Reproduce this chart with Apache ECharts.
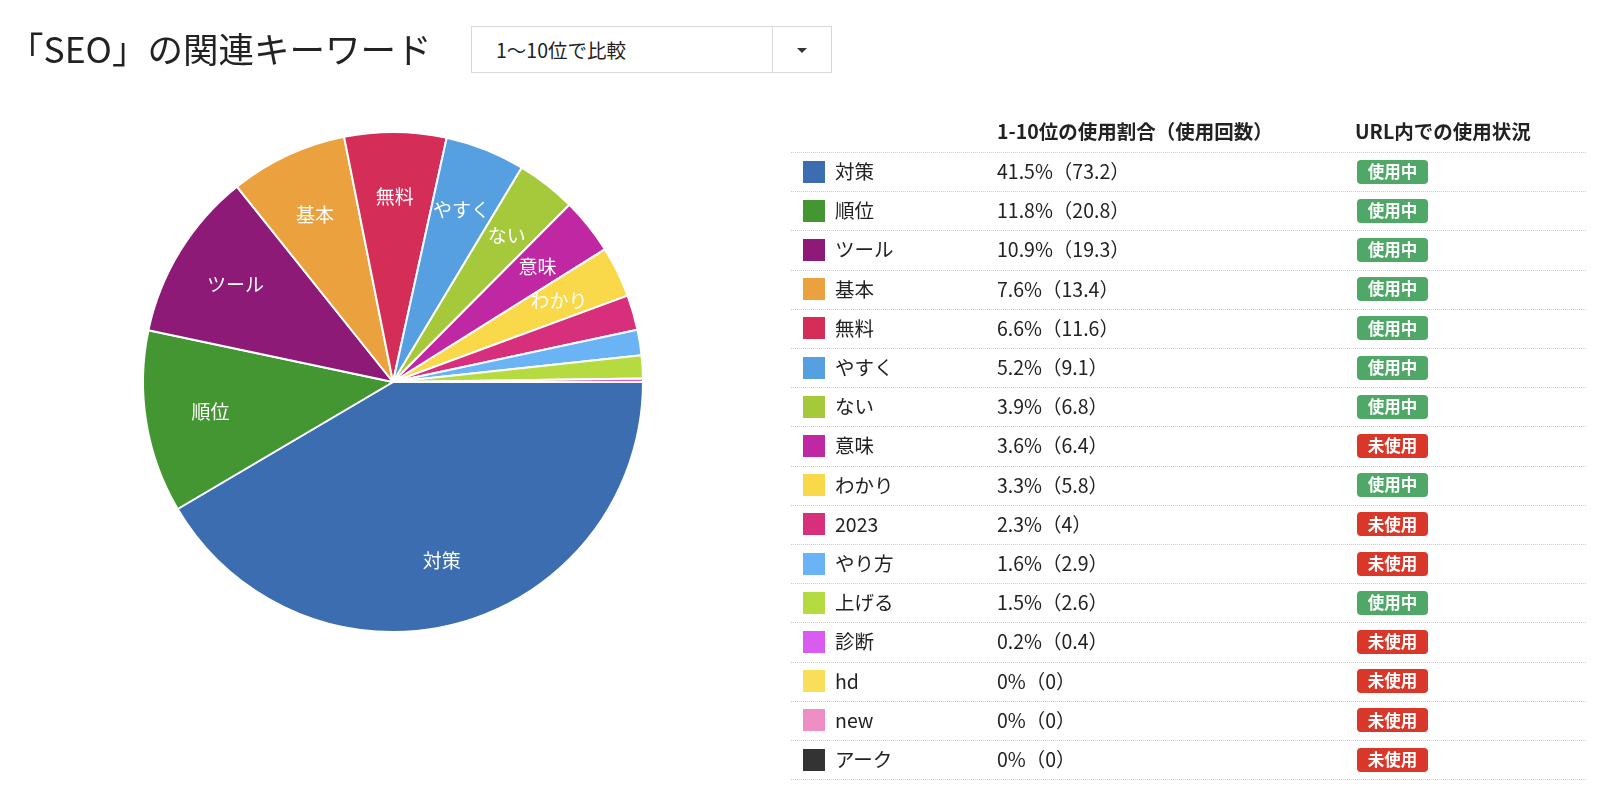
<!DOCTYPE html>
<html><head><meta charset="utf-8">
<script src="https://cdn.jsdelivr.net/npm/echarts@6/dist/echarts.min.js"></script>
<style>
html,body{margin:0;padding:0;background:#fff;}
#chart{position:absolute;left:0;top:0;width:1600px;height:795px;}
#dd{position:absolute;left:471px;top:26px;width:361px;height:47px;border:1px solid #d9d9d9;box-sizing:border-box;font-family:"Noto Sans CJK JP",sans-serif;font-size:19.5px;color:#222;background:#fff;}
#dd .t{position:absolute;left:24px;top:0;line-height:45px;}
#dd .sep{position:absolute;left:300px;top:0;width:1px;height:45px;background:#d9d9d9;}
#dd .car{position:absolute;left:325px;top:21px;width:0;height:0;border-left:5px solid transparent;border-right:5px solid transparent;border-top:5px solid #333;}
</style></head>
<body>
<div id="chart"></div>
<div id="dd"><span class="t">1〜10位で比較</span><span class="sep"></span><span class="car"></span></div>
<script>
const titleText = "「SEO」の関連キーワード";
const headerPct = "1-10位の使用割合（使用回数）";
const headerUrl = "URL内での使用状況";
const categories = ["対策","順位","ツール","基本","無料","やすく","ない","意味","わかり","2023","やり方","上げる","診断","hd","new","アーク"];
const counts = [73.2,20.8,19.3,13.4,11.6,9.1,6.8,6.4,5.8,4,2.9,2.6,0.4,0,0,0];
const percents = ["41.5","11.8","10.9","7.6","6.6","5.2","3.9","3.6","3.3","2.3","1.6","1.5","0.2","0","0","0"];
const urlUsed = [true,true,true,true,true,true,true,false,true,false,false,true,false,false,false,false];
const colors = ["#3c6db0","#449632","#8d1a76","#eba23e","#d42d57","#569fe0","#a6c83b","#c027a2","#f9d84a","#d72f7c","#6ab4f5","#b6db41","#d95bef","#f9de5a","#ef8ec5","#333333"];

const FONT = '"Noto Sans CJK JP", sans-serif';
const chart = echarts.init(document.getElementById('chart'));
const pieData = categories.map((c,i)=>({name:c,value:counts[i],itemStyle:{color:colors[i]}}));

const rowTop = 152, rowH = 39.2;
const graphics = [];
graphics.push({type:'text',x:997,y:132,style:{text:headerPct,font:'bold 19.5px '+FONT,fill:'#222',verticalAlign:'middle'}});
graphics.push({type:'text',x:1355,y:132,style:{text:headerUrl,font:'bold 19.5px '+FONT,fill:'#222',verticalAlign:'middle'}});
for(let i=0;i<=categories.length;i++){
  const y = Math.round(rowTop + rowH*i)+0.5;
  graphics.push({type:'line',shape:{x1:791,y1:y,x2:1587,y2:y},style:{stroke:'#c8c8c8',lineWidth:1,lineDash:[1,1]}});
}
categories.forEach((c,i)=>{
  const cy = rowTop + rowH*i + rowH/2;
  graphics.push({type:'rect',shape:{x:803,y:Math.round(cy-11),width:22,height:22},style:{fill:colors[i]}});
  graphics.push({type:'text',x:835,y:cy,style:{text:c,font:'19.5px '+FONT,fill:'#222',verticalAlign:'middle'}});
  graphics.push({type:'text',x:997,y:cy,style:{text:percents[i]+'%（'+counts[i]+'）',font:'19.5px '+FONT,fill:'#222',verticalAlign:'middle'}});
  graphics.push({type:'rect',shape:{x:1357,y:Math.round(cy-12),width:71,height:24,r:4},style:{fill:urlUsed[i]?'#4fa868':'#d9372a'}});
  graphics.push({type:'text',x:1392.5,y:cy,style:{text:urlUsed[i]?'使用中':'未使用',font:'bold 16.5px '+FONT,fill:'#fff',align:'center',verticalAlign:'middle'}});
});

chart.setOption({
  animation:false,
  title:{text:titleText,left:3,top:27,textStyle:{fontFamily:FONT,fontSize:35.5,fontWeight:'normal',color:'#222'}},
  graphic:graphics,
  series:[
    {type:'pie',center:[393,382],radius:[0,250],startAngle:0,clockwise:true,silent:true,
      label:{show:false},labelLine:{show:false},
      itemStyle:{borderColor:'#fff',borderWidth:2},data:pieData},
    {type:'pie',center:[393,382],radius:[114,250],startAngle:0,clockwise:true,silent:true,
      minShowLabelAngle:10,
      label:{show:true,position:'inside',color:'#fff',fontSize:19,fontFamily:FONT,formatter:'{b}'},
      labelLine:{show:false},
      itemStyle:{color:'rgba(0,0,0,0)',borderWidth:0},
      data:categories.map((c,i)=>({name:c,value:counts[i]}))}
  ]
});
</script>
</body></html>
